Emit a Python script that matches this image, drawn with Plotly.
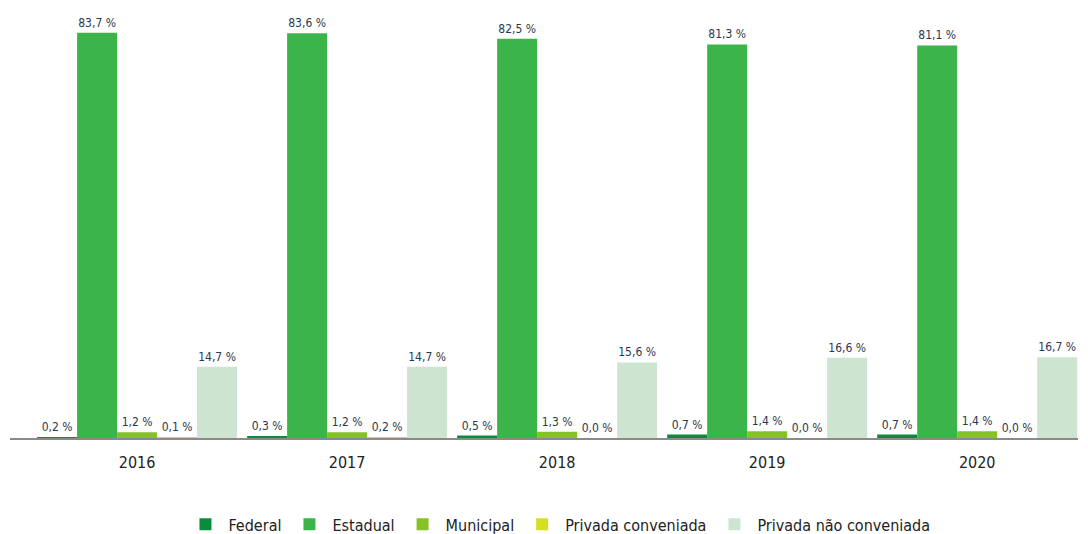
import plotly.graph_objects as go

years = ["2016", "2017", "2018", "2019", "2020"]
federal = [0.2, 0.3, 0.5, 0.7, 0.7]
estadual = [83.7, 83.6, 82.5, 81.3, 81.1]
municipal = [1.2, 1.2, 1.3, 1.4, 1.4]
privada_conv = [0.1, 0.2, 0.0, 0.0, 0.0]
privada_nao_conv = [14.7, 14.7, 15.6, 16.6, 16.7]

series = [
    ("Federal", federal, "#0b8c3c"),
    ("Estadual", estadual, "#3bb54a"),
    ("Municipal", municipal, "#86c226"),
    ("Privada conveniada", privada_conv, "#d5df22"),
    ("Privada não conveniada", privada_nao_conv, "#cde4d0"),
]

font_fam = "DejaVu Sans Condensed, Liberation Sans Narrow, Liberation Sans, Arial"

fig = go.Figure()
for name, vals, color in series:
    fig.add_trace(go.Bar(
        x=years, y=vals, name=name, marker=dict(color=color, line=dict(width=0)),
        text=[f"{v:.1f} %".replace(".", ",") for v in vals],
        textposition="outside", cliponaxis=False,
        textfont=dict(family=font_fam, size=12, color="#2a3850"),
    ))

fig.update_layout(
    width=1088, height=534,
    margin=dict(l=2, r=18, t=4, b=104, autoexpand=False),
    plot_bgcolor="white", paper_bgcolor="white",
    barmode="group", bargap=0.048, bargroupgap=0,
    showlegend=True,
    legend=dict(orientation="h", x=0.514, xanchor="center", y=-0.163, yanchor="top",
                font=dict(family=font_fam, size=16, color="#222"),
                itemsizing="constant", traceorder="normal", itemwidth=36),
    xaxis=dict(type="category", range=[-0.605, 4.48], showline=True, linecolor="#8a8a8a",
               linewidth=2, ticks="", showgrid=False, ticklabelstandoff=9,
               tickfont=dict(family=font_fam, size=16, color="#222")),
    yaxis=dict(range=[0, 88], visible=False, showgrid=False, zeroline=False),
)

fig.write_html("out.html")
